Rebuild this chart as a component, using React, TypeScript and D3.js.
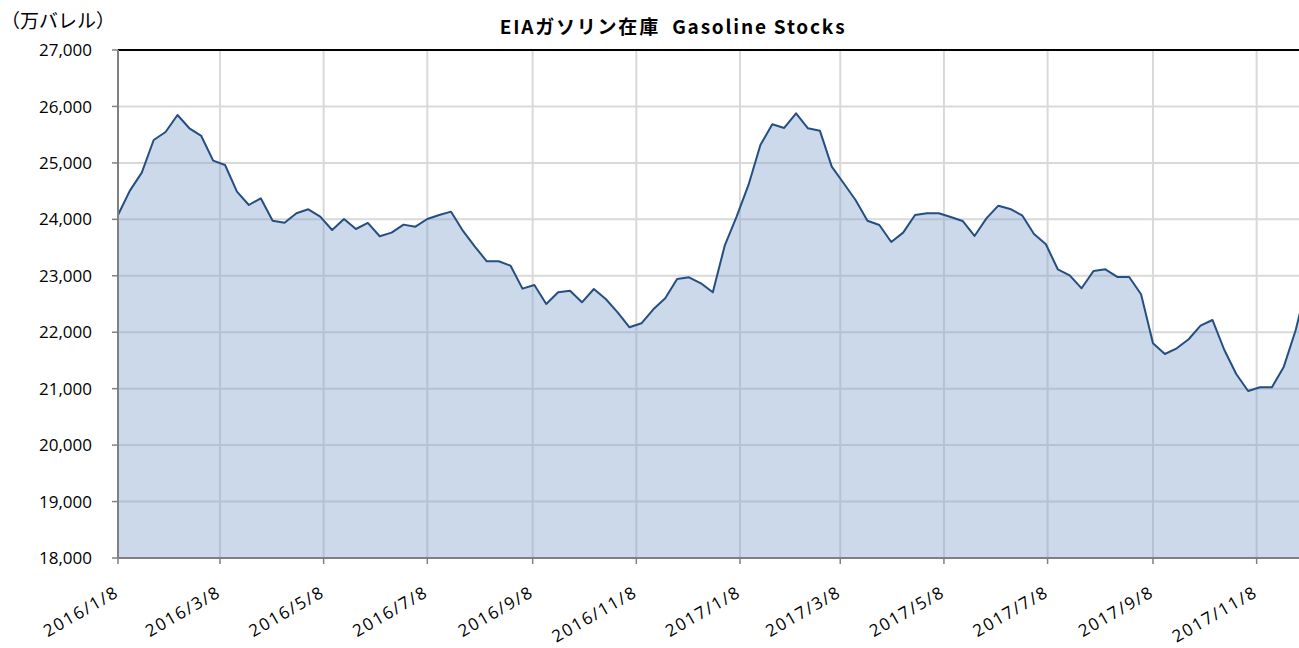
import React from "react";
import * as d3 from "d3";

// Weekly EIA gasoline stocks (万バレル), weeks starting 2016/1/8
const startDate = "2016-01-08";
const stocks: number[] = [
  24077, 24508, 24827, 25406, 25548, 25849, 25613, 25477, 25040, 24963,
  24490, 24254, 24373, 23976, 23941, 24107, 24178, 24047, 23811, 24006,
  23829, 23936, 23700, 23764, 23906, 23870, 24006, 24077, 24136, 23794,
  23516, 23257, 23257, 23179, 22772, 22837, 22500, 22707, 22736, 22530,
  22766, 22589, 22353, 22087, 22158, 22406, 22601, 22943, 22973, 22867,
  22707, 23533, 24047, 24609, 25318, 25684, 25619, 25879, 25613, 25571,
  24933, 24639, 24343, 23976, 23900, 23599, 23764, 24077, 24107, 24107,
  24042, 23971, 23705, 24018, 24242, 24184, 24071, 23741, 23558, 23115,
  23008, 22778, 23085, 23115, 22979, 22979, 22672, 21804, 21614, 21715,
  21875, 22116, 22217, 21685, 21260, 20959, 21024, 21024, 21390, 22040,
  22900,
];
const xTickLabels: string[] = [
  "2016/1/8", "2016/3/8", "2016/5/8", "2016/7/8", "2016/9/8", "2016/11/8",
  "2017/1/8", "2017/3/8", "2017/5/8", "2017/7/8", "2017/9/8", "2017/11/8",
];
const yTicks: number[] = [18000, 19000, 20000, 21000, 22000, 23000, 24000, 25000, 26000, 27000];
const title = "EIAガソリン在庫  Gasoline Stocks";
const unitLabel = "（万バレル）";

const parseLabel = (s: string) => {
  const [y, m, d] = s.split("/").map(Number);
  return new Date(Date.UTC(y, m - 1, d));
};

export default function App() {
  const W = 1299, H = 648;
  const left = 118, top = 50, bottom = 558;
  const start = new Date(startDate + "T00:00:00Z");
  const dates = stocks.map((_, i) => d3.utcDay.offset(start, 7 * i));
  const endDate = d3.utcDay.offset(start, 700);
  const x = d3.scaleUtc().domain([start, endDate]).range([left, left + 700 * (622 / 366)]);
  const y = d3.scaleLinear().domain([18000, 27000]).range([bottom, top]);
  const data = stocks.map((v, i) => ({ d: dates[i], v }));
  const area = d3.area<{ d: Date; v: number }>().x(p => x(p.d)).y0(y(18000)).y1(p => y(p.v));
  const line = d3.line<{ d: Date; v: number }>().x(p => x(p.d)).y(p => y(p.v));
  const fmt = d3.format(",");
  const labelFont = "'Open Sans', 'Noto Sans', sans-serif";

  return (
    <svg width={W} height={H} style={{ position: "absolute", left: 0, top: 0, background: "#fff" }}>
      <text x={1} y={28} fontSize={19} fontFamily="'Noto Sans CJK JP', sans-serif" fill="#000">{unitLabel}</text>
      <text x={673} y={34} textAnchor="middle" fontSize={19} letterSpacing={1.8} fontWeight="bold" fontFamily="'Noto Sans CJK JP', sans-serif" fill="#000" style={{ whiteSpace: "pre" }}>{title}</text>
      {/* horizontal grid */}
      {yTicks.map(t => (
        <line key={"h" + t} x1={left} x2={W} y1={y(t)} y2={y(t)} stroke="#d9d9d9" strokeWidth={2} />
      ))}
      {xTickLabels.map(s => (
        <line key={"v" + s} x1={x(parseLabel(s))} x2={x(parseLabel(s))} y1={top} y2={bottom} stroke="#d9d9d9" strokeWidth={2} />
      ))}
      <path d={area(data) || ""} fill="rgb(125,160,205)" fillOpacity={0.4} />
      <path d={line(data) || ""} fill="none" stroke="#254e82" strokeWidth={2} strokeLinejoin="round" />
      {/* top border */}
      <line x1={left} x2={W} y1={top} y2={top} stroke="#000" strokeWidth={2} />
      {/* axes */}
      <line x1={left} x2={left} y1={top} y2={bottom + 1} stroke="#808080" strokeWidth={2} />
      <line x1={left - 1} x2={W} y1={bottom} y2={bottom} stroke="#808080" strokeWidth={2} />
      {yTicks.map(t => (
        <g key={"yt" + t}>
          <line x1={left - 6} x2={left} y1={y(t)} y2={y(t)} stroke="#808080" strokeWidth={1.5} />
          <text x={92} y={y(t)} dy="0.36em" textAnchor="end" fontSize={17} fontFamily={labelFont} fill="#000">{fmt(t)}</text>
        </g>
      ))}
      {xTickLabels.map(s => {
        const xx = x(parseLabel(s));
        return (
          <g key={"xt" + s}>
            <line x1={xx} x2={xx} y1={bottom} y2={bottom + 6} stroke="#808080" strokeWidth={1.5} />
            <text transform={`translate(${xx - 4},${bottom + 27}) rotate(-30)`} dy="0.72em" textAnchor="end" fontSize={17} letterSpacing={1.6} fontFamily={labelFont} fill="#000">{s}</text>
          </g>
        );
      })}
    </svg>
  );
}
